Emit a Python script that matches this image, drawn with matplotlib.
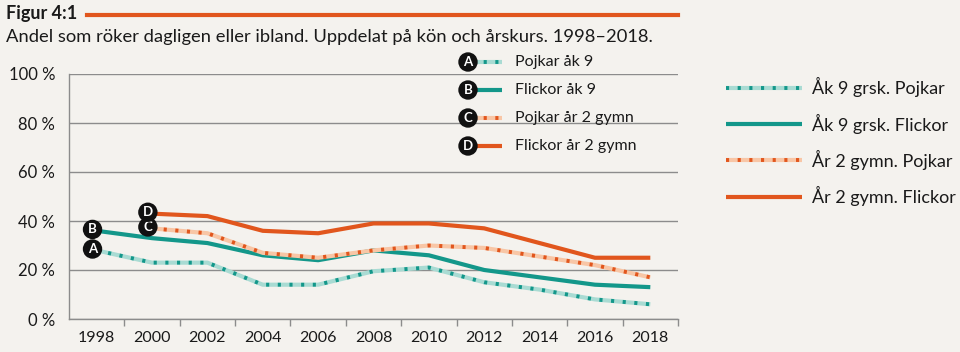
import numpy as np
import matplotlib.pyplot as plt
from matplotlib.lines import Line2D

plt.rcParams['font.family'] = ['Lato', 'DejaVu Sans']

# ------------- data (andel som röker, %) -------------
years = [1998, 2000, 2002, 2004, 2006, 2008, 2010, 2012, 2014, 2016, 2018]
pojkar_ak9 = [28, 23, 23, 14, 14, 19.5, 21, 15, 12, 8, 6]
flickor_ak9 = [36, 33, 31, 26, 24, 28, 26, 20, 17, 14, 13]
pojkar_gy2 = [np.nan, 37, 35, 27, 25, 28, 30, 29, 25.5, 22, 17]
flickor_gy2 = [np.nan, 43, 42, 36, 35, 39, 39, 37, 31, 25, 25]

letters = ["A", "B", "C", "D"]
short_labels = ["Pojkar åk 9", "Flickor åk 9", "Pojkar år 2 gymn", "Flickor år 2 gymn"]
long_labels = ["Åk 9 grsk. Pojkar", "Åk 9 grsk. Flickor", "År 2 gymn. Pojkar", "År 2 gymn. Flickor"]
yticks = [0, 20, 40, 60, 80, 100]

# ------------- styles -------------
BG = "#f4f2ee"
TEAL = "#13978a"
TEAL_LIGHT = "#a9dbd3"
ORANGE = "#e1561d"
ORANGE_LIGHT = "#f8c6a6"
GRID = "#8c8c8c"
TEXT = "#1a1a1a"

series = [pojkar_ak9, flickor_ak9, pojkar_gy2, flickor_gy2]
# (main color, light base or None)
styles = [(TEAL, TEAL_LIGHT), (TEAL, None), (ORANGE, ORANGE_LIGHT), (ORANGE, None)]
dots = (0, (0.8, 2.2))
badge = dict(boxstyle="circle,pad=0.28", fc="#111111", ec="none")


def make_lines(xs, ys, col, light, **kw):
    if light is None:
        return [Line2D(xs, ys, color=col, lw=3, solid_capstyle="butt", **kw)]
    return [Line2D(xs, ys, color=light, lw=3, solid_capstyle="butt", **kw),
            Line2D(xs, ys, color=col, lw=2.8, linestyle=dots, dash_capstyle="butt", **kw)]


W, H = 960, 352
fig = plt.figure(figsize=(W / 100, H / 100), dpi=100, facecolor=BG)
ax = fig.add_axes([69 / W, 1 - 319 / H, (678 - 69) / W, (319 - 74) / H])
ax.set_facecolor(BG)

x = np.arange(len(years))

for vals, (col, light), let in zip(series, styles, letters):
    arr = np.array(vals, dtype=float)
    for ln in make_lines(x, arr, col, light, zorder=3):
        ax.add_line(ln)
    i0 = int(np.argmax(~np.isnan(arr)))
    ax.annotate(let, (x[i0], arr[i0]), xytext=(-3, 1), textcoords="offset points",
                ha="center", va="center", color="white", fontsize=9.5, fontweight="bold",
                bbox=badge, zorder=5)

ax.set_ylim(0, 100)
ax.set_xlim(-0.5, len(years) - 0.5)
ax.set_yticks(yticks)
ax.set_yticklabels([f"{v} %" for v in yticks], fontsize=12, color=TEXT)
ax.set_xticks(x)
ax.set_xticklabels([str(y) for y in years], fontsize=11.5, color=TEXT)
ax.set_xticks(np.arange(0.5, len(years)), minor=True)
ax.tick_params(axis="x", which="major", length=0, pad=9)
ax.tick_params(axis="x", which="minor", length=5, color=GRID, width=1)
ax.tick_params(axis="y", length=0, pad=10)
ax.grid(axis="y", color=GRID, lw=1)
ax.set_axisbelow(True)
for s in ["top", "right"]:
    ax.spines[s].set_visible(False)
for s in ["left", "bottom"]:
    ax.spines[s].set_color(GRID)
    ax.spines[s].set_linewidth(1)

# ------------- title -------------
fig.text(6 / W, 1 - 14 / H, "Figur 4:1", fontsize=13, fontweight="bold", color=TEXT, va="center")
fig.add_artist(Line2D([87 / W, 678 / W], [1 - 15 / H, 1 - 15 / H], color=ORANGE, lw=3))
fig.text(6 / W, 1 - 37 / H,
         "Andel som röker dagligen eller ibland. Uppdelat på kön och årskurs. 1998–2018.",
         fontsize=13.2, color=TEXT, va="center")

# ------------- inner legend with letters -------------
for i, (let, lab, (col, light)) in enumerate(zip(letters, short_labels, styles)):
    yp = 1 - (62 + 28 * i) / H
    for ln in make_lines([472 / W, 502 / W], [yp, yp], col, light):
        ln.set_transform(fig.transFigure)
        fig.add_artist(ln)
    fig.text(468 / W, yp, let, ha="center", va="center", color="white", fontsize=9.5,
             fontweight="bold", bbox=badge)
    fig.text(515 / W, yp, lab, fontsize=11.5, color=TEXT, va="center")

# ------------- outer legend -------------
handles = []
for col, light in styles:
    lns = make_lines([], [], col, light)
    handles.append(lns[0] if len(lns) == 1 else tuple(lns))
fig.legend(handles, long_labels, loc="upper left", bbox_to_anchor=(710 / W, 1 - 61 / H),
           frameon=False, fontsize=13, handlelength=4.2, handletextpad=0.55,
           labelspacing=0.9, labelcolor=TEXT)

fig.savefig("out.png", dpi=100, facecolor=BG)
